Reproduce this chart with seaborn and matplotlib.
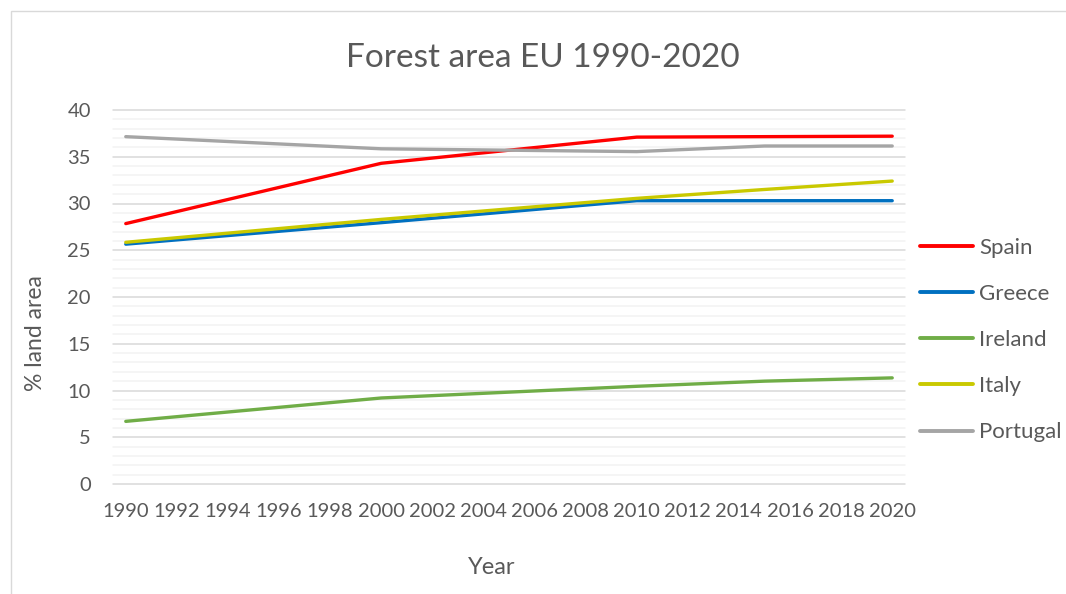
import matplotlib
matplotlib.use("Agg")
import matplotlib.pyplot as plt
from matplotlib.patches import Rectangle
import numpy as np
import pandas as pd
import seaborn as sns

# Forest cover as % of land area
years = [1990, 2000, 2010, 2015, 2020]
spain = [27.85, 34.3, 37.1, 37.15, 37.2]
greece = [25.65, 27.95, 30.3, 30.3, 30.3]
ireland = [6.7, 9.2, 10.45, 11.0, 11.35]
italy = [25.85, 28.3, 30.55, 31.5, 32.4]
portugal = [37.15, 35.85, 35.55, 36.15, 36.15]

countries = ["Spain", "Greece", "Ireland", "Italy", "Portugal"]
colors = ["#FF0000", "#0070C0", "#70AD47", "#C9C900", "#A5A5A5"]
tick_years = list(range(1990, 2021, 2))

series = dict(zip(countries, [spain, greece, ireland, italy, portugal]))
df = pd.DataFrame(
    [(y, c, v) for c in countries for y, v in zip(years, series[c])],
    columns=["Year", "Country", "Value"],
)

sns.set_theme(style="white")
plt.rcParams["font.family"] = ["Lato", "DejaVu Sans"]
text_color = "#595959"

W, H = 1066, 594
fig = plt.figure(figsize=(W / 100, H / 100), dpi=100)
ax = fig.add_axes([113 / W, 1 - 484 / H, (905 - 113) / W, (484 - 110) / H])

# light gridlines: minor every 1, major every 5
for v in range(0, 41):
    ax.axhline(v, color="#d9d9d9" if v % 5 == 0 else "#f2f2f2",
               lw=1.1, zorder=0, clip_on=False)

sns.lineplot(data=df, x="Year", y="Value", hue="Country", hue_order=countries,
             palette=colors, linewidth=2.4, ax=ax, legend=False,
             solid_capstyle="round", zorder=3)

ax.set_xlim(1989.5, 2020.5)
ax.set_ylim(0, 40)
ax.set_xticks(tick_years)
ax.set_xticklabels([str(y) for y in tick_years])
ax.set_yticks(range(0, 41, 5))
for s in ax.spines.values():
    s.set_visible(False)
ax.tick_params(axis="both", length=0, labelsize=14.5, colors=text_color)
ax.tick_params(axis="y", pad=16)
ax.tick_params(axis="x", pad=14)
ax.set_xlabel("")
ax.set_ylabel("")

fig.text(543 / W, 1 - 67 / H, "Forest area EU 1990-2020", ha="center",
         va="baseline", fontsize=24, color=text_color)
fig.text(492 / W, 1 - 568 / H, "Year", ha="center", va="center",
         fontsize=17, color=text_color)
fig.text(36 / W, 1 - 333 / H, "% land area", ha="center", va="center",
         rotation=90, fontsize=16.5, color=text_color)

# legend on the right
handles = [plt.Line2D([], [], color=c, lw=2.8, solid_capstyle="round") for c in colors]
leg = ax.legend(handles, countries, loc="center left",
                bbox_to_anchor=(920 / W, 1 - 340 / H),
                bbox_transform=fig.transFigure, frameon=False,
                fontsize=16, handlelength=2.4, handletextpad=0.27,
                labelspacing=1.18, borderaxespad=0, borderpad=0)
for t in leg.get_texts():
    t.set_color(text_color)

# chart area border
fig.add_artist(Rectangle((11 / W, -0.5), 2, 1.5 - 11 / H, transform=fig.transFigure,
                         fill=False, edgecolor="#d9d9d9", lw=1.0))

fig.savefig("out.png", dpi=100, facecolor="white")
